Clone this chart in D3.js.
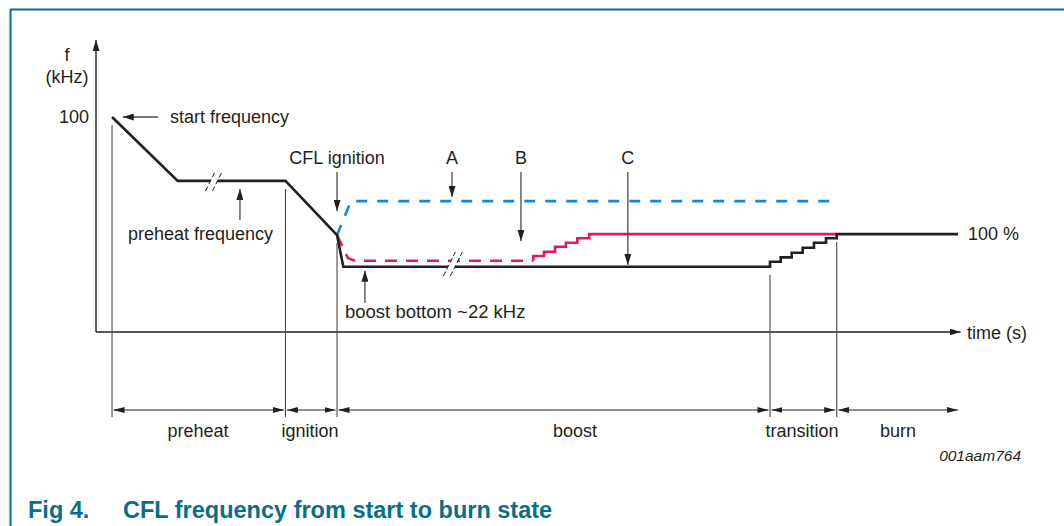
<!DOCTYPE html>
<html>
<head>
<meta charset="utf-8">
<script src="https://cdn.jsdelivr.net/npm/d3@7"></script>
<style>
  body { margin: 0; background: #fff; }
  svg text { font-family: "Liberation Sans", Arial, sans-serif; fill: #231f20; }
</style>
</head>
<body>
<svg id="chart" width="1064" height="526"></svg>
<script>
// time in % of the drawn span, frequency in kHz (schematic figure)
var cT = [1.86, 9.48, 21.98, 27.96, 28.69];          // curve C, linear part
var cF = [100, 66.7, 66.7, 38.5, 22];
var cRiseT = [78.19, 79.43, 80.71, 81.98, 83.29, 84.69, 85.93]; // C transition steps
var cRiseF = [24.6, 26.9, 29.3, 31.9, 34.5, 36.8, 39];
var cEndT = 100;

var bT = [27.96, 29.23, 30.05];                     // curve B, dashed part
var bF = [38.5, 26.5, 25.1];
var bRiseT = [50.73, 51.97, 53.25, 54.52, 55.84, 57.23];
var bRiseF = [27.6, 29.8, 32.4, 34.5, 36.8, 39];
var bEndT = 85.93;

var aT = [27.96, 29.58, 85.93];                     // curve A
var aF = [38.5, 56.2, 56.2];

var phaseNames = ["preheat", "ignition", "boost", "transition", "burn"];
var phaseBounds = [1.86, 21.98, 27.96, 78.19, 85.93, 100];
var phaseLabelT = [11.83, 24.83, 55.57, 81.9, 93.04];
var boundTopF = [100, 66.7, 38.5, 22, 39];

var annoNames = ["CFL ignition", "A", "B", "C"];
var annoT = [27.96, 41.3, 49.3, 61.7];
var annoTipF = [51.0, 58.3, 35.4, 22.9];

var breakT = [13.69, 41.4];
var breakF = [66.7, 23.4];

var svg = d3.select("#chart");
var x = d3.scaleLinear().domain([0, 100]).range([96, 958]);
var y = d3.scaleLinear().domain([-12, 100]).range([332, 117]);

var ink = "#231f20", grey = "#4a4a4a";

// arrowhead markers
var defs = svg.append("defs");
function marker(id, len, wid, col) {
  defs.append("marker").attr("id", id)
    .attr("markerUnits", "userSpaceOnUse")
    .attr("markerWidth", len).attr("markerHeight", wid)
    .attr("refX", len).attr("refY", wid / 2)
    .attr("orient", "auto-start-reverse")
    .append("path").attr("d", "M0,0L" + len + "," + (wid / 2) + "L0," + wid + "Z")
    .attr("fill", col);
}
marker("ah", 11, 7, ink);
marker("dim", 11, 6, ink);

// frame
svg.append("line").attr("x1", 10).attr("y1", 9.5).attr("x2", 1064).attr("y2", 9.5)
  .attr("stroke", "#0b6f86").attr("stroke-width", 2);
svg.append("line").attr("x1", 10.5).attr("y1", 9).attr("x2", 10.5).attr("y2", 526)
  .attr("stroke", "#0b6f86").attr("stroke-width", 2);

// axes
svg.append("line").attr("x1", x(0)).attr("y1", y(-12)).attr("x2", x(0)).attr("y2", 40)
  .attr("stroke", ink).attr("stroke-width", 1.4).attr("marker-end", "url(#ah)");
svg.append("line").attr("x1", x(0)).attr("y1", y(-12)).attr("x2", x(100.3)).attr("y2", y(-12))
  .attr("stroke", ink).attr("stroke-width", 1.4).attr("marker-end", "url(#ah)");

svg.append("text").attr("x", 67).attr("y", 61).attr("text-anchor", "middle").attr("font-size", 18).text("f");
svg.append("text").attr("x", 67).attr("y", 83).attr("text-anchor", "middle").attr("font-size", 18).text("(kHz)");
svg.append("text").attr("x", 89).attr("y", y(100) + 5.5).attr("text-anchor", "end").attr("font-size", 18).text("100");
svg.append("text").attr("x", x(100) + 9).attr("y", y(-12) + 7).attr("font-size", 18).text("time (s)");
svg.append("text").attr("x", x(100) + 10).attr("y", y(39) + 6).attr("font-size", 18).text("100 %");

// phase boundary lines and dimension arrows
var dimY = 410;
phaseBounds.slice(0, 5).forEach(function (t, i) {
  svg.append("line").attr("x1", x(t)).attr("x2", x(t))
    .attr("y1", y(boundTopF[i]) + 8).attr("y2", 417)
    .attr("stroke", grey).attr("stroke-width", 1.1);
});
phaseNames.forEach(function (n, i) {
  svg.append("line")
    .attr("x1", x(phaseBounds[i]) + 1.5).attr("x2", x(phaseBounds[i + 1]) - (i < 4 ? 1.5 : 0))
    .attr("y1", dimY).attr("y2", dimY)
    .attr("stroke", ink).attr("stroke-width", 1.1)
    .attr("marker-start", "url(#dim)").attr("marker-end", "url(#dim)");
  svg.append("text").attr("x", x(phaseLabelT[i])).attr("y", 437)
    .attr("text-anchor", "middle").attr("font-size", 18).text(n);
});

// curves
var line = d3.line().x(function (d) { return x(d[0]); }).y(function (d) { return y(d[1]); });

function withSteps(pts, riseT, riseF, endT) {
  var out = pts.slice();
  var last = out[out.length - 1][1];
  riseT.forEach(function (t, i) {
    out.push([t, last]);
    out.push([t, riseF[i]]);
    last = riseF[i];
  });
  out.push([endT, last]);
  return out;
}

var aPts = aT.map(function (t, i) { return [t, aF[i]]; });
svg.append("path").attr("d", line(aPts)).attr("fill", "none")
  .attr("stroke", "#1787cf").attr("stroke-width", 2.6).attr("stroke-dasharray", "11,10");

var bPts = bT.map(function (t, i) { return [t, bF[i]]; });
bPts.push([bRiseT[0], bF[bF.length - 1]]);
svg.append("path").attr("d", line(bPts)).attr("fill", "none")
  .attr("stroke", "#e5195c").attr("stroke-width", 2.6).attr("stroke-dasharray", "12,9");
svg.append("path").attr("d", line(withSteps([bPts[bPts.length - 1]], bRiseT, bRiseF, bEndT)))
  .attr("fill", "none").attr("stroke", "#e5195c").attr("stroke-width", 2.6);

var cPts = cT.map(function (t, i) { return [t, cF[i]]; });
svg.append("path").attr("d", line(withSteps(cPts, cRiseT, cRiseF, cEndT)))
  .attr("fill", "none").attr("stroke", ink).attr("stroke-width", 2.6);

// break marks
breakT.forEach(function (t, i) {
  var cx = x(t), cy = y(breakF[i]);
  var h = i === 0 ? 10 : 12;
  var sx = h * 0.5;
  svg.append("path")
    .attr("d", "M" + (cx - 3.5 - sx) + "," + (cy + h) + "L" + (cx - 3.5 + sx) + "," + (cy - h) +
      "L" + (cx + 3.5 + sx) + "," + (cy - h) + "L" + (cx + 3.5 - sx) + "," + (cy + h) + "Z")
    .attr("fill", "#fff");
  [-3.5, 3.5].forEach(function (o) {
    svg.append("line").attr("x1", cx + o - sx).attr("y1", cy + h)
      .attr("x2", cx + o + sx).attr("y2", cy - h)
      .attr("stroke", ink).attr("stroke-width", 1).attr("stroke-dasharray", "5,2.5");
  });
});

// annotations
function arrow(x1, y1, x2, y2) {
  svg.append("line").attr("x1", x1).attr("y1", y1).attr("x2", x2).attr("y2", y2)
    .attr("stroke", grey).attr("stroke-width", 1.3).attr("marker-end", "url(#ah)");
}
arrow(158, y(100), x(3.1), y(100));
svg.append("text").attr("x", 170).attr("y", y(100) + 6).attr("font-size", 18).text("start frequency");

arrow(x(16.7), 220, x(16.7), y(66.7) + 8);
svg.append("text").attr("x", 128).attr("y", 240).attr("font-size", 18).text("preheat frequency");

annoNames.forEach(function (n, i) {
  svg.append("text").attr("x", x(annoT[i])).attr("y", 164).attr("text-anchor", "middle")
    .attr("font-size", 18).text(n);
  arrow(x(annoT[i]), 172, x(annoT[i]), y(annoTipF[i]));
});

arrow(x(31.2), 303, x(31.2), y(22) + 4);
svg.append("text").attr("x", 345).attr("y", 318).attr("font-size", 18.5).text("boost bottom ~22 kHz");

svg.append("text").attr("x", 1021).attr("y", 461).attr("text-anchor", "end")
  .attr("font-size", 15.5).attr("font-style", "italic").text("001aam764");

// caption
svg.append("text").attr("x", 28).attr("y", 518).attr("font-size", 23.5).attr("font-weight", "bold")
  .style("fill", "#0a6e88").text("Fig 4.");
svg.append("text").attr("x", 123).attr("y", 518).attr("font-size", 23.5).attr("font-weight", "bold")
  .style("fill", "#0a6e88").text("CFL frequency from start to burn state");
</script>
</body>
</html>
